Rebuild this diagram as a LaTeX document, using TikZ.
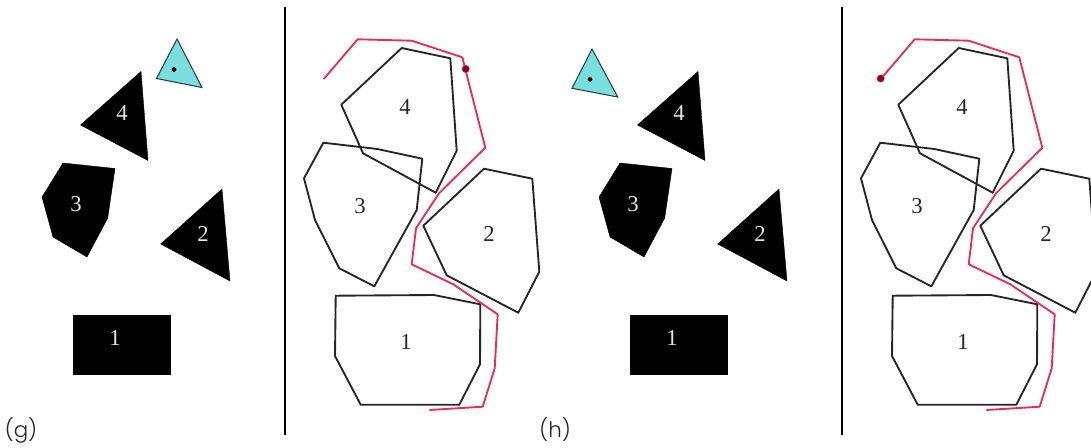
\documentclass[tikz,border=0pt]{standalone}
\usepackage{fontspec}
\setmainfont{Liberation Serif}
\newfontfamily\panelfont[UprightFont=* Light]{Poppins}
\usepackage{xcolor}
\usepackage{tikz}
\usetikzlibrary{positioning}

\definecolor{robotcyan}{RGB}{122,222,222}
\definecolor{pathred}{RGB}{232,44,92}
\definecolor{dotred}{RGB}{140,0,32}

\begin{document}
\begin{tikzpicture}[
    x=0.75pt, y=-0.75pt,
    font=\fontsize{17pt}{20pt}\selectfont,
    obstacle/.style={fill=black, draw=black, line width=0.3pt},
    robot/.style={fill=robotcyan, draw=black!70!robotcyan, line width=0.8pt},
    grown/.style={draw=black!85, line width=1.4pt, line join=round},
    route/.style={draw=pathred, line width=1.4pt, line join=round},
    divider/.style={draw=black, line width=1.2pt},
    refdot/.style={circle, fill=black, inner sep=0pt, minimum size=3.5pt},
    routedot/.style={circle, fill=dotred, draw=pathred, line width=0.3pt, inner sep=0pt, minimum size=5.5pt},
    inlabel/.style={text=white!90!black},
    outlabel/.style={text=black!85},
    panellabel/.style={font=\panelfont\fontsize{16pt}{18pt}\selectfont, text=black!85},
]

\clip (0,0) rectangle (1091,447);
\useasboundingbox (0,0) rectangle (1091,447);

% ---------- Panel (g): workspace ----------
\draw[robot] (177,39) -- (156.5,78.5) -- (202,87.5) -- cycle;
\node[refdot] (refg) at (174,69.5) {};

\draw[obstacle] (141,71.5) -- (80.5,125) -- (148,160.5) -- cycle;
\draw[obstacle] (63,163) -- (115,168.5) -- (107.7,218) -- (87,257) -- (53,237) -- (42,197) -- cycle;
\draw[obstacle] (222,189) -- (160.7,244) -- (230,281) -- cycle;
\draw[obstacle] (73.5,315) rectangle (170.5,374);

\node[inlabel] (wfour) at (122,113) {4};
\node[inlabel] (wthree) at (76,204) {3};
\node[inlabel] (wtwo) at (203,234) {2};
\node[inlabel] (wone) at (115,338) {1};
\node[panellabel] (labelg) at (21,430) {(g)};

\draw[divider] (285,7) -- (285,435);

% ---------- Panel (g): configuration space ----------
\draw[grown] (401.7,48) -- (450.3,58.3) -- (456.7,150.7) -- (435.7,192.7) -- (363,153.3) -- (341.3,104.7) -- cycle;
\draw[grown] (323.3,142.7) -- (377.3,149) -- (422.3,158.7) -- (416.7,210) -- (374.3,286.3) -- (339.3,268.3) -- (315,220) -- (304,178.3) -- cycle;
\draw[grown] (484,168.7) -- (532.3,178.7) -- (539.3,271.7) -- (518.3,312.7) -- (446.7,275.3) -- (423.3,225.7) -- cycle;
\draw[grown] (335.7,295.7) -- (434,295) -- (480.3,304.3) -- (480,364.3) -- (459.3,404.7) -- (360.7,404.7) -- (335,356) -- cycle;

\node[outlabel] (cfour) at (405,107) {4};
\node[outlabel] (cthree) at (360,206) {3};
\node[outlabel] (ctwo) at (489,234) {2};
\node[outlabel] (cone) at (406,342) {1};

\draw[route] (429.3,410) -- (482.7,406.7) -- (494.7,368.3) -- (497.7,314.3) -- (453.3,284.3) -- (411.7,264.3) -- (416,228.3) -- (439,193.3) -- (485.3,147.7) -- (462.3,57.3) -- (411.7,40.7) -- (357.7,39.3) -- (323.7,79);
\node[routedot] (posg) at (465.7,69) {};

% ---------- Panel (h): workspace ----------
\draw[robot] (592,49) -- (572,88.3) -- (617.7,97) -- cycle;
\node[refdot] (refh) at (590,79.3) {};

\draw[obstacle] (698,71.5) -- (637.5,125) -- (705,160.5) -- cycle;
\draw[obstacle] (620,163) -- (672,168.5) -- (664.7,218) -- (644,257) -- (610,237) -- (599,197) -- cycle;
\draw[obstacle] (779,189) -- (717.7,244) -- (787,281) -- cycle;
\draw[obstacle] (630.5,315) rectangle (727.5,374);

\node[inlabel] (vfour) at (679,113) {4};
\node[inlabel] (vthree) at (633,204) {3};
\node[inlabel] (vtwo) at (760,234) {2};
\node[inlabel] (vone) at (672,338) {1};
\node[panellabel] (labelh) at (555,430) {(h)};

\draw[divider] (842,7) -- (842,435);

% ---------- Panel (h): configuration space ----------
\draw[grown] (958.7,48) -- (1007.3,58.3) -- (1013.7,150.7) -- (992.7,192.7) -- (920,153.3) -- (898.3,104.7) -- cycle;
\draw[grown] (880.3,142.7) -- (934.3,149) -- (979.3,158.7) -- (973.7,210) -- (931.3,286.3) -- (896.3,268.3) -- (872,220) -- (861,178.3) -- cycle;
\draw[grown] (1041,168.7) -- (1089.3,178.7) -- (1096.3,271.7) -- (1075.3,312.7) -- (1003.7,275.3) -- (980.3,225.7) -- cycle;
\draw[grown] (892.7,295.7) -- (991,295) -- (1037.3,304.3) -- (1037,364.3) -- (1016.3,404.7) -- (917.7,404.7) -- (892,356) -- cycle;

\node[outlabel] (dfour) at (962,107) {4};
\node[outlabel] (dthree) at (917,206) {3};
\node[outlabel] (dtwo) at (1046,234) {2};
\node[outlabel] (done) at (963,342) {1};

\draw[route] (986.3,410) -- (1039.7,406.7) -- (1051.7,368.3) -- (1054.7,314.3) -- (1010.3,284.3) -- (968.7,264.3) -- (973,228.3) -- (996,193.3) -- (1042.3,147.7) -- (1019.3,57.3) -- (968.7,40.7) -- (914.7,39.3) -- (880.7,79);
\node[routedot] (posh) at (880.7,78.5) {};

\end{tikzpicture}
\end{document}
